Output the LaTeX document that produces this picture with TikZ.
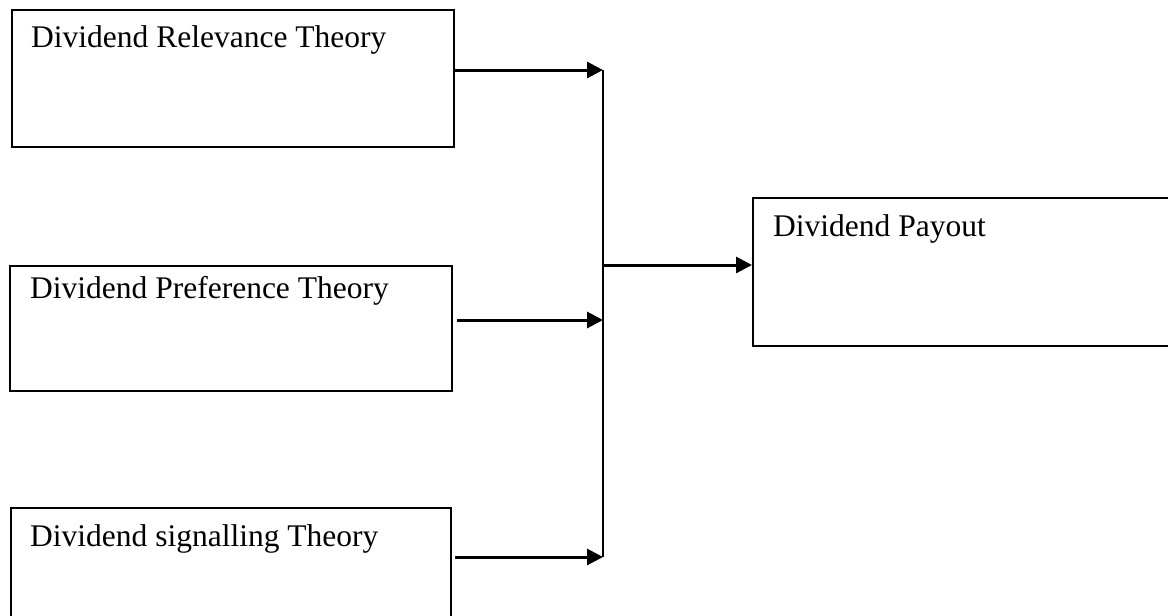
\documentclass[tikz,border=0pt]{standalone}
\usepackage{fontspec}
\setmainfont{Liberation Serif}
\usetikzlibrary{arrows.meta,calc}
\begin{document}
\begin{tikzpicture}[x=1pt,y=-1pt,
  box/.style={draw,line width=2pt,inner sep=0pt,anchor=north west},
  lbl/.style={anchor=base west,inner sep=0pt,font=\fontsize{31.5}{36}\selectfont},
  link/.style={line width=3pt,-{Triangle[length=16pt,width=16pt]}},
  bus/.style={line width=2pt}]
\useasboundingbox (0,0) rectangle (1168,616);
\clip (0,0) rectangle (1168,616);
% boxes
\node[box,minimum width=442pt,minimum height=137pt] (b1) at (11,9) {};
\node[box,minimum width=442pt,minimum height=125pt] (b2) at (9,265) {};
\node[box,minimum width=440pt,minimum height=130pt] (b3) at (10,507) {};
\node[box,minimum width=440pt,minimum height=148pt] (b4) at (752,197) {};
% labels
\node[lbl] (t1) at (31,47) {Dividend Relevance Theory};
\node[lbl] (t2) at (30,298) {Dividend Preference Theory};
\node[lbl] (t3) at (30,546) {Dividend signalling Theory};
\node[lbl] (t4) at (773,236) {Dividend Payout};
% bus junctions
\coordinate (j1) at (603,70);
\coordinate (j2) at (603,320);
\coordinate (j3) at (603,557);
\coordinate (j0) at (603,265);
\draw[bus] (j1) -- (j3);
\draw[link] (j1 -| b1.east) -- (j1);
\draw[link] (j2 -| b2.east) ++(4,0) -- (j2);
\draw[link] (j3 -| b3.east) ++(3,0) -- (j3);
\draw[link] (j0) -- (j0 -| b4.west);
\end{tikzpicture}
\end{document}
